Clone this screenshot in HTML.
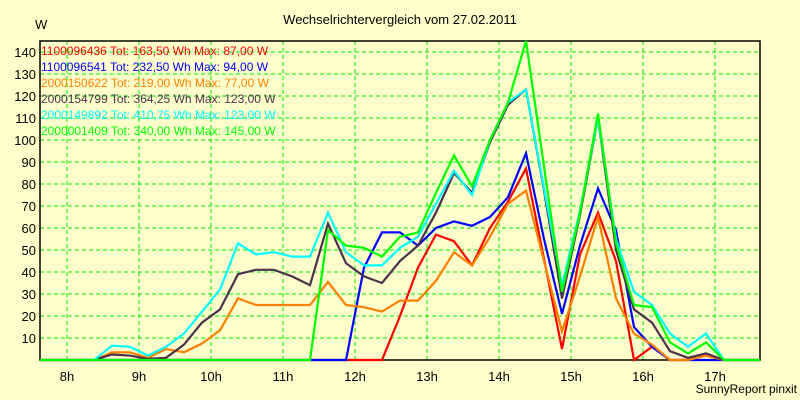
<!DOCTYPE html>
<html><head><meta charset="utf-8"><style>
body{margin:0;background:#ffffcc;}
svg{display:block;font-family:"Liberation Sans",sans-serif;}
</style></head><body>
<svg id="chart" width="800" height="400">
<rect x="0" y="0" width="800" height="400" fill="#ffffcc"/>
<text x="400" y="24" font-size="13" text-anchor="middle">Wechselrichtervergleich vom 27.02.2011</text>
<text x="35" y="29" font-size="13">W</text>
<text x="797" y="393" font-size="12" text-anchor="end">SunnyReport pinxit</text>
<g id="grid"></g>
<g id="axes"></g>
<g id="series"></g>
<g id="legend"></g>
</svg>
<script>
const hourTicks=["8h","9h","10h","11h","12h","13h","14h","15h","16h","17h"];
const hourValues=[8,9,10,11,12,13,14,15,16,17];
const yTicks=[10,20,30,40,50,60,70,80,90,100,110,120,130,140];
const startHour=7.625, stepHour=0.25;
const seriesNames=["1100096436 Tot: 163,50 Wh Max: 87,00 W","1100096541 Tot: 232,50 Wh Max: 94,00 W","2000150622 Tot: 219,00 Wh Max: 77,00 W","2000154799 Tot: 364,25 Wh Max: 123,00 W","2000149892 Tot: 410,75 Wh Max: 123,00 W","2000001409 Tot: 340,00 Wh Max: 145,00 W"];
const seriesColors=["#ff0000","#0000ff","#ff8000","#4b304b","#00ffff","#00ff00"];
const red=[0,0,0,0,0,0,0,0,0,0,0,0,0,0,0,0,0,0,0,0,20,42,57,54,43,60,72,87,46,5,48,67,45,0,6,0,0,2,0,0,0];
const blue=[0,0,0,0,0,0,0,0,0,0,0,0,0,0,0,0,0,0,42,58,58,52,60,63,61,65,74,94,55,21,52,78,59,15,6,0,0,0,0,0,0];
const orange=[0,0,0,0,3.5,3.5,1,5,3.5,7.5,13.5,28,25,25,25,25,35.5,25,24,22,27,27,36,49,43,56,71,77,45,13,38,65,28,12,7,0,0,2,0,0,0];
const dark=[0,0,0,0,2.5,2,0.5,1,7,17,23,39,41,41,38,34,62,44,38,35,45,52,67,85,76,99,116,123,77,28,66,110,50,23,17,4,1,3,0,0,0];
const cyan=[0,0,0,0,6.5,6,2,6,12,22,32,53,48,49,47,47,67,49,43,43,51,56,71,86,75,100,117,123,78,34,68,110,55,31,25,12,6,12,0,0,0];
const green=[0,0,0,0,0,0,0,0,0,0,0,0,0,0,0,0,59,52,51,47,56,58,76,93,79,100,117,145,88,31,67,112,53,25,24,8,3,8,0,0,0];
const allSeries=[red,blue,orange,dark,cyan,green];
const NS="http://www.w3.org/2000/svg";
const X0=40,X1=760,Y0=360,Y1=41;
const xOf=h=>X0+(h-startHour)*72;
const yOf=v=>Y0-v*2.2;
function mk(tag,attrs,parent){const e=document.createElementNS(NS,tag);for(const k in attrs)e.setAttribute(k,attrs[k]);parent.appendChild(e);return e;}
const grid=document.getElementById('grid'),axes=document.getElementById('axes'),ser=document.getElementById('series'),leg=document.getElementById('legend');
yTicks.forEach(v=>{
 const l=mk('line',{x1:X0,x2:X1,y1:yOf(v),y2:yOf(v),stroke:'#00ee00','stroke-dasharray':'4,3','stroke-width':1},grid);
 
 
 const t=mk('text',{x:36,y:yOf(v)+5,'font-size':13,'text-anchor':'end'},axes);t.textContent=v;
 
 
});
hourValues.forEach((h,i)=>{
 const l=mk('line',{x1:xOf(h),x2:xOf(h),y1:Y1,y2:Y0,stroke:'#00ee00','stroke-dasharray':'4,3','stroke-width':1},grid);
 
 
 const t=mk('text',{x:xOf(h),y:381,'font-size':13,'text-anchor':'middle'},axes);t.textContent=hourTicks[i];
 
 
});
const frame=mk('path',{d:`M${X0} ${Y1}H${X1}V${Y0}H${X0}Z`,fill:'none',stroke:'#000','stroke-width':1.5},axes);


allSeries.forEach((arr,si)=>{
 const pts=arr.map((v,k)=>xOf(startHour+k*stepHour).toFixed(1)+','+yOf(v).toFixed(1)).join(' ');
 const p=mk('polyline',{points:pts,fill:'none',stroke:seriesColors[si],'stroke-width':2.2,'stroke-linejoin':'miter'},ser);
 
 
 const t=mk('text',{x:41,y:55+si*16,'font-size':12,fill:seriesColors[si]},leg);t.textContent=seriesNames[si];
 
 
});
</script>
</body></html>
